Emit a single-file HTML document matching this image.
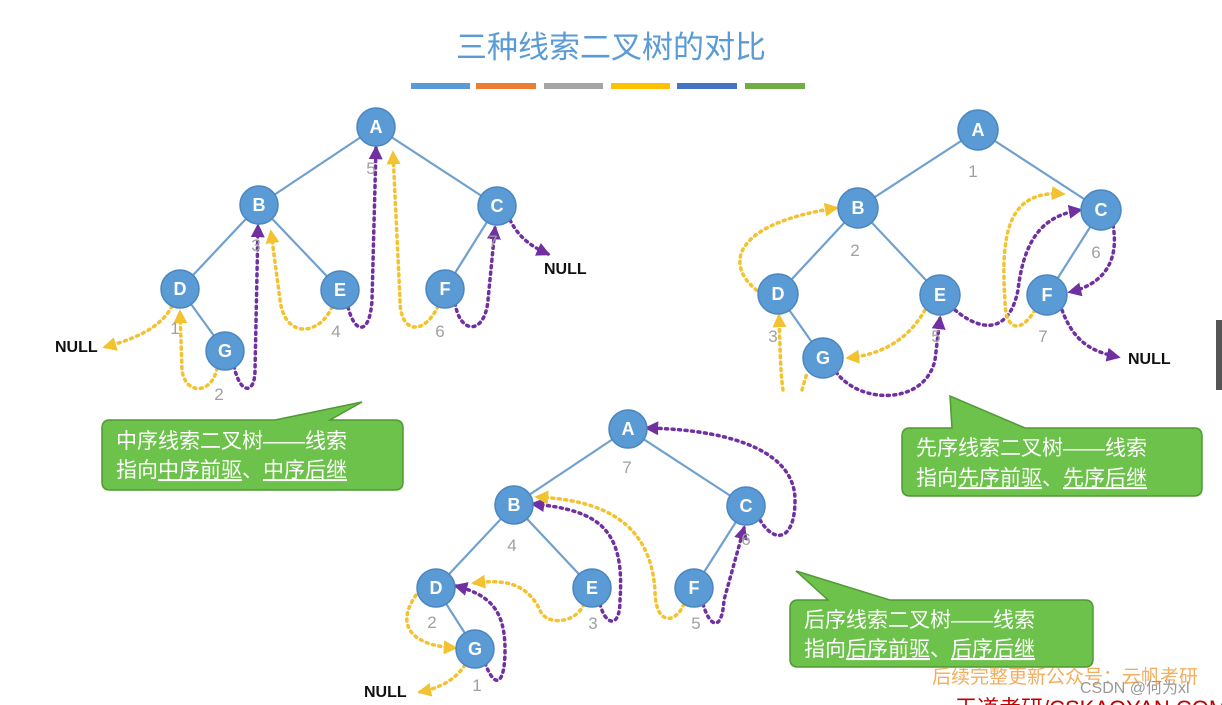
<!DOCTYPE html>
<html><head><meta charset="utf-8"><style>
body{margin:0;background:#fff;}
svg{display:block;}
.n{fill:#5b9bd5;stroke:#4a86c0;stroke-width:1.5}
.nt{font-family:"Liberation Sans",sans-serif;font-weight:bold;font-size:18px;fill:#fff;text-anchor:middle}
.num{font-family:"Liberation Sans",sans-serif;font-size:17px;fill:#a0a0a0;text-anchor:middle}
.e{stroke:#6fa0d0;stroke-width:2.2;fill:none}
.y{stroke:#f2c230;stroke-width:3.5;fill:none;stroke-dasharray:2 4.5;stroke-linecap:round}
.p{stroke:#7030a0;stroke-width:3.5;fill:none;stroke-dasharray:2 4.5;stroke-linecap:round}
.null{font-family:"Liberation Sans",sans-serif;font-weight:bold;font-size:16px;fill:#111}
.cb{fill:#6cc24a;stroke:#4f9a33;stroke-width:1.5}
.ct{font-family:"Liberation Sans","Noto Sans CJK SC",sans-serif;font-size:21px;fill:#fff}
</style></head><body>
<svg width="1222" height="705" viewBox="0 0 1222 705" xmlns="http://www.w3.org/2000/svg">
<defs>
<marker id="ay" viewBox="0 0 10 10" refX="8" refY="5" markerWidth="4" markerHeight="4" orient="auto"><path d="M0,0L10,5L0,10z" fill="#f2c230"/></marker>
<marker id="ap" viewBox="0 0 10 10" refX="8" refY="5" markerWidth="4" markerHeight="4" orient="auto"><path d="M0,0L10,5L0,10z" fill="#7030a0"/></marker>
</defs>
<text x="611" y="58" text-anchor="middle" font-family="Liberation Sans,Noto Sans CJK SC,sans-serif" font-size="31" fill="#5b9bd5">三种线索二叉树的对比</text>
<rect x="411" y="83" width="59" height="6" fill="#5b9bd5"/>
<rect x="476" y="83" width="60" height="6" fill="#ed7d31"/>
<rect x="544" y="83" width="59" height="6" fill="#a5a5a5"/>
<rect x="611" y="83" width="59" height="6" fill="#ffc000"/>
<rect x="677" y="83" width="60" height="6" fill="#4472c4"/>
<rect x="745" y="83" width="60" height="6" fill="#70ad47"/>
<rect x="1216" y="320" width="6" height="70" fill="#555"/>

<!-- Tree 1 -->
<g>
<path class="e" d="M376,127L259,205M376,127L497,206M259,205L180,289M259,205L340,290M497,206L445,289M180,289L225,351"/>
<path class="y" d="M172,306C160,330 130,340 105,347" marker-end="url(#ay)"/>
<path class="y" d="M217,368C212,395 185,395 182,370L180,312" marker-end="url(#ay)"/>
<path class="p" d="M234,366C240,395 255,395 255,370L258,226" marker-end="url(#ap)"/>
<path class="y" d="M332,307C320,335 285,340 280,300L271,232" marker-end="url(#ay)"/>
<path class="p" d="M348,307C355,335 370,335 372,300L376,148" marker-end="url(#ap)"/>
<path class="y" d="M438,306C425,335 400,335 400,300L393,153" marker-end="url(#ay)"/>
<path class="p" d="M455,303C460,335 485,335 488,300L495,228" marker-end="url(#ap)"/>
<path class="p" d="M510,220C520,240 535,248 548,254" marker-end="url(#ap)"/>
<circle class="n" cx="376" cy="127" r="19"/><text class="nt" x="376" y="133">A</text>
<circle class="n" cx="259" cy="205" r="19"/><text class="nt" x="259" y="211">B</text>
<circle class="n" cx="497" cy="206" r="19"/><text class="nt" x="497" y="212">C</text>
<circle class="n" cx="180" cy="289" r="19"/><text class="nt" x="180" y="295">D</text>
<circle class="n" cx="340" cy="290" r="19"/><text class="nt" x="340" y="296">E</text>
<circle class="n" cx="445" cy="289" r="19"/><text class="nt" x="445" y="295">F</text>
<circle class="n" cx="225" cy="351" r="19"/><text class="nt" x="225" y="357">G</text>
<text class="num" x="371" y="174">5</text><text class="num" x="256" y="251">3</text><text class="num" x="493" y="247">7</text>
<text class="num" x="175" y="334">1</text><text class="num" x="336" y="337">4</text><text class="num" x="440" y="337">6</text><text class="num" x="219" y="400">2</text>
<text class="null" x="55" y="352">NULL</text><text class="null" x="544" y="274">NULL</text>
</g>

<!-- Tree 2 -->
<g>
<path class="e" d="M978,130L858,208M978,130L1101,210M858,208L778,294M858,208L940,295M1101,210L1047,295M778,294L823,358"/>
<path class="y" d="M762,294C725,270 725,225 836,208" marker-end="url(#ay)"/>
<path class="y" d="M783,390C780,370 780,340 779,316" marker-end="url(#ay)"/>
<path class="y" d="M802,390C805,380 806,375 808,372"/>
<path class="p" d="M836,372C860,405 925,405 935,360L940,318" marker-end="url(#ap)"/>
<path class="y" d="M925,310C905,345 875,355 848,358" marker-end="url(#ay)"/>
<path class="p" d="M955,310C985,335 1010,330 1018,290C1025,230 1050,215 1080,210" marker-end="url(#ap)"/>
<path class="y" d="M1035,310C1020,335 1005,330 1005,300C1000,230 1010,190 1063,194" marker-end="url(#ay)"/>
<path class="p" d="M1113,225C1120,265 1100,285 1070,292" marker-end="url(#ap)"/>
<path class="p" d="M1062,310C1075,345 1095,352 1118,357" marker-end="url(#ap)"/>
<circle class="n" cx="978" cy="130" r="20"/><text class="nt" x="978" y="136">A</text>
<circle class="n" cx="858" cy="208" r="20"/><text class="nt" x="858" y="214">B</text>
<circle class="n" cx="1101" cy="210" r="20"/><text class="nt" x="1101" y="216">C</text>
<circle class="n" cx="778" cy="294" r="20"/><text class="nt" x="778" y="300">D</text>
<circle class="n" cx="940" cy="295" r="20"/><text class="nt" x="940" y="301">E</text>
<circle class="n" cx="1047" cy="295" r="20"/><text class="nt" x="1047" y="301">F</text>
<circle class="n" cx="823" cy="358" r="20"/><text class="nt" x="823" y="364">G</text>
<text class="num" x="973" y="177">1</text><text class="num" x="855" y="256">2</text><text class="num" x="1096" y="258">6</text>
<text class="num" x="773" y="342">3</text><text class="num" x="936" y="342">5</text><text class="num" x="1043" y="342">7</text>
<text class="null" x="1128" y="364">NULL</text>
</g>

<!-- Tree 3 -->
<g>
<path class="e" d="M628,429L514,505M628,429L746,506M514,505L436,588M514,505L592,588M746,506L694,588M436,588L475,649"/>
<path class="p" d="M760,520C775,545 795,540 795,500C795,455 740,430 647,428" marker-end="url(#ap)"/>
<path class="p" d="M600,604C605,625 620,630 620,600C625,530 600,510 533,504" marker-end="url(#ap)"/>
<path class="y" d="M684,604C675,625 655,625 655,590C650,520 600,500 537,497" marker-end="url(#ay)"/>
<path class="p" d="M703,604C710,628 722,632 724,600L744,528" marker-end="url(#ap)"/>
<path class="p" d="M485,663C495,690 505,685 505,650C505,610 490,595 456,586" marker-end="url(#ap)"/>
<path class="y" d="M584,604C575,625 545,625 540,610C525,580 500,580 474,583" marker-end="url(#ay)"/>
<path class="y" d="M420,590C395,620 405,645 455,648" marker-end="url(#ay)"/>
<path class="y" d="M465,665C455,680 440,688 420,692" marker-end="url(#ay)"/>
<circle class="n" cx="628" cy="429" r="19"/><text class="nt" x="628" y="435">A</text>
<circle class="n" cx="514" cy="505" r="19"/><text class="nt" x="514" y="511">B</text>
<circle class="n" cx="746" cy="506" r="19"/><text class="nt" x="746" y="512">C</text>
<circle class="n" cx="436" cy="588" r="19"/><text class="nt" x="436" y="594">D</text>
<circle class="n" cx="592" cy="588" r="19"/><text class="nt" x="592" y="594">E</text>
<circle class="n" cx="694" cy="588" r="19"/><text class="nt" x="694" y="594">F</text>
<circle class="n" cx="475" cy="649" r="19"/><text class="nt" x="475" y="655">G</text>
<text class="num" x="627" y="473">7</text><text class="num" x="512" y="551">4</text><text class="num" x="746" y="545">6</text>
<text class="num" x="432" y="628">2</text><text class="num" x="593" y="629">3</text><text class="num" x="696" y="629">5</text><text class="num" x="477" y="691">1</text>
<text class="null" x="364" y="697">NULL</text>
</g>

<!-- Callouts -->
<path class="cb" d="M110,420L275,420L362,402L330,420L395,420Q403,420 403,428L403,482Q403,490 395,490L110,490Q102,490 102,482L102,428Q102,420 110,420z"/>
<text class="ct" x="116" y="448">中序线索二叉树——线索</text>
<text class="ct" x="116" y="477">指向<tspan text-decoration="underline">中序前驱</tspan>、<tspan text-decoration="underline">中序后继</tspan></text>

<path class="cb" d="M910,428L952,428L950,396L1025,428L1194,428Q1202,428 1202,436L1202,488Q1202,496 1194,496L910,496Q902,496 902,488L902,436Q902,428 910,428z"/>
<text class="ct" x="916" y="455">先序线索二叉树——线索</text>
<text class="ct" x="916" y="485">指向<tspan text-decoration="underline">先序前驱</tspan>、<tspan text-decoration="underline">先序后继</tspan></text>

<path class="cb" d="M798,600L828,600L796,571L890,600L1085,600Q1093,600 1093,608L1093,659Q1093,667 1085,667L798,667Q790,667 790,659L790,608Q790,600 798,600z"/>
<text class="ct" x="804" y="627">后序线索二叉树——线索</text>
<text class="ct" x="804" y="656">指向<tspan text-decoration="underline">后序前驱</tspan>、<tspan text-decoration="underline">后序后继</tspan></text>

<text x="932" y="683" font-family="Liberation Sans,Noto Sans CJK SC,sans-serif" font-size="19" fill="#f0a040" opacity="0.85">后续完整更新公众号：云帆考研</text>
<text x="1080" y="693" font-family="Liberation Sans,Noto Sans CJK SC,sans-serif" font-size="16" fill="#999">CSDN @何为xl</text>
<text x="955" y="716" font-family="Liberation Sans,Noto Sans CJK SC,sans-serif" font-size="22" fill="#c00000">王道考研/CSKAOYAN.COM</text>
</svg>
</body></html>
